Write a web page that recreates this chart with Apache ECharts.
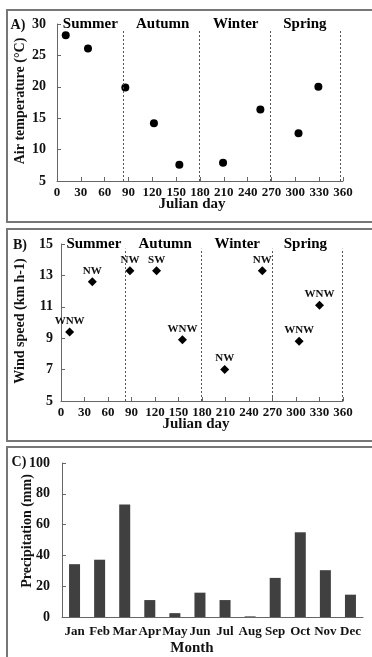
<!DOCTYPE html>
<html>
<head>
<meta charset="utf-8">
<script src="https://cdn.jsdelivr.net/npm/echarts@6/dist/echarts.min.js"></script>
<style>
  html, body { margin: 0; padding: 0; background: #fff; }
  #chart { width: 372px; height: 657px; }
</style>
</head>
<body>
<div id="chart"></div>
<script>
// A) air temperature: [julian day, °C]
var tempPoints = [[11, 28.2], [39, 26.1], [86, 19.9], [122, 14.2], [154, 7.6], [209, 7.9], [256, 16.4], [304, 12.6], [329, 20.0]];
// B) wind speed: [julian day, km h-1, direction]
var windPoints = [[11, 9.4, 'WNW'], [40, 12.6, 'NW'], [88, 13.3, 'NW'], [122, 13.3, 'SW'], [155, 8.9, 'WNW'], [209, 7.0, 'NW'], [257, 13.3, 'NW'], [304, 8.8, 'WNW'], [330, 11.1, 'WNW']];
// season boundaries (julian day) for each panel
var seasonBoundsA = [83, 179, 268, 357];
var seasonBoundsB = [82, 179, 270, 359];
var seasonNames = ['Summer', 'Autumn', 'Winter', 'Spring'];
var seasonCenters = [42, 133, 225, 312];
// C) precipitation
var months = ['Jan', 'Feb', 'Mar', 'Apr', 'May', 'Jun', 'Jul', 'Aug', 'Sep', 'Oct', 'Nov', 'Dec'];
var precip = [34.3, 37.2, 73.0, 11.0, 2.5, 15.8, 11.0, 0.4, 25.4, 55.0, 30.4, 14.5];

var FONT = "'Liberation Serif', 'Times New Roman', serif";
var axisGray = '#666';

function dayAxis(idx) {
  return {
    type: 'value', gridIndex: idx, min: 0, max: 360, interval: 30,
    axisLine: { lineStyle: { color: axisGray, width: 1 } },
    axisTick: { inside: true, length: 4, lineStyle: { color: axisGray } },
    axisLabel: { color: '#111', fontFamily: FONT, fontWeight: 'bold', fontSize: 13, margin: 5, showMinLabel: true, showMaxLabel: true },
    splitLine: { show: false }
  };
}
function valAxis(idx, min, max, interval, margin) {
  return {
    type: 'value', gridIndex: idx, min: min, max: max, interval: interval,
    axisLine: { show: true, lineStyle: { color: axisGray, width: 1 } },
    axisTick: { show: true, inside: true, length: 4, lineStyle: { color: axisGray } },
    axisLabel: { color: '#111', fontFamily: FONT, fontWeight: 'bold', fontSize: 14, margin: margin },
    splitLine: { show: false }
  };
}
function boundLines(bounds, yLo, yHi) {
  return {
    silent: true,
    symbol: ['none', 'none'],
    label: { show: false },
    lineStyle: { color: '#555', width: 1, type: [2, 2] },
    data: bounds.map(function (d) { return [{ coord: [d, yLo] }, { coord: [d, yHi] }]; })
  };
}
function seasonSeries(xi, yTop) {
  return {
    type: 'scatter', xAxisIndex: xi, yAxisIndex: xi, silent: true,
    symbolSize: 0, itemStyle: { color: '#000', opacity: 1 },
    data: seasonNames.map(function (n, i) { return [seasonCenters[i], yTop, n]; }),
    label: {
      show: true, position: 'inside', color: '#000', fontFamily: FONT, fontWeight: 'bold', fontSize: 15,
      formatter: function (p) { return p.data[2]; }
    }
  };
}
function txt(x, y, s, size, rot) {
  return {
    type: 'text', x: x, y: y, rotation: rot || 0,
    style: { text: s, fill: '#111', font: 'bold ' + size + 'px ' + FONT, align: 'center', verticalAlign: 'middle' }
  };
}
function frame(y, h) {
  return { type: 'rect', shape: { x: 7, y: y, width: 380, height: h }, style: { fill: 'none', stroke: '#777', lineWidth: 2 } };
}

var chart = echarts.init(document.getElementById('chart'));
chart.setOption({
  animation: false,
  grid: [
    { left: 57, right: 29, top: 24, bottom: 476 },
    { left: 61, right: 29, top: 244, bottom: 256 },
    { left: 62, right: 9, top: 463, bottom: 40 }
  ],
  xAxis: [
    dayAxis(0),
    dayAxis(1),
    {
      type: 'category', gridIndex: 2, data: months, boundaryGap: true,
      axisLine: { lineStyle: { color: axisGray, width: 1 } },
      axisTick: { inside: true, length: 4, alignWithLabel: false, lineStyle: { color: axisGray } },
      axisLabel: { color: '#111', fontFamily: FONT, fontWeight: 'bold', fontSize: 13, margin: 8, interval: 0 }
    }
  ],
  yAxis: [
    valAxis(0, 5, 30, 5, 11),
    valAxis(1, 5, 15, 2, 8),
    valAxis(2, 0, 100, 20, 12)
  ],
  graphic: [
    frame(10, 212),
    frame(229, 212),
    frame(447, 240),
    txt(18, 25, 'A)', 14),
    txt(20, 245, 'B)', 14),
    txt(19, 462, 'C)', 14),
    txt(192, 204, 'Julian day', 15),
    txt(196, 424, 'Julian day', 15),
    txt(192, 648, 'Month', 15),
    txt(20, 101, 'Air temperature (°C)', 14, Math.PI / 2),
    txt(20, 321, 'Wind speed (km h-1)', 14, Math.PI / 2),
    txt(27, 531, 'Precipitation (mm)', 14, Math.PI / 2)
  ],
  series: [
    {
      type: 'scatter', xAxisIndex: 0, yAxisIndex: 0,
      symbol: 'circle', symbolSize: 8, itemStyle: { color: '#000', opacity: 1 },
      data: tempPoints,
      markLine: boundLines(seasonBoundsA, 5, 29)
    },
    seasonSeries(0, 30),
    {
      type: 'scatter', xAxisIndex: 1, yAxisIndex: 1,
      symbol: 'diamond', symbolSize: 9, itemStyle: { color: '#000', opacity: 1 },
      data: windPoints,
      label: {
        show: true, position: 'top', distance: 1, color: '#111',
        fontFamily: FONT, fontWeight: 'bold', fontSize: 11,
        formatter: function (p) { return p.data[2]; }
      },
      markLine: boundLines(seasonBoundsB, 5, 14.7)
    },
    seasonSeries(1, 15),
    {
      type: 'bar', xAxisIndex: 2, yAxisIndex: 2,
      barWidth: 11, itemStyle: { color: '#404040' },
      data: precip
    }
  ]
});
</script>
</body>
</html>
